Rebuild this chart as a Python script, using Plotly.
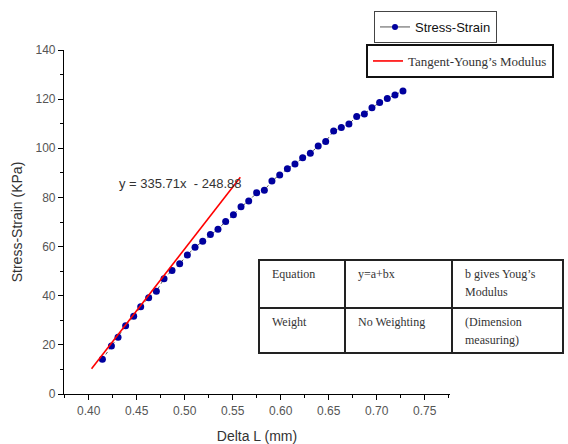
import plotly.graph_objects as go

# ---- data ----
delta_l = [0.4143, 0.4237, 0.4306, 0.4385, 0.4469, 0.4542, 0.4625, 0.4705, 0.4785, 0.4868,
           0.4948, 0.5028, 0.5108, 0.5188, 0.5268, 0.5347, 0.5427, 0.5508, 0.5587, 0.5667,
           0.5750, 0.5830, 0.5909, 0.5990, 0.6070, 0.6149, 0.6229, 0.6309, 0.6391, 0.6469,
           0.6552, 0.6632, 0.6711, 0.6792, 0.6872, 0.6951, 0.7031, 0.7111, 0.7191, 0.7274]
stress = [14.1, 19.5, 23.1, 27.8, 31.6, 35.5, 39.2, 41.8, 46.9, 50.3,
          53.0, 56.6, 59.7, 62.2, 64.9, 67.1, 70.2, 73.0, 76.2, 78.5,
          81.9, 82.9, 86.7, 89.1, 91.7, 93.6, 96.1, 98.0, 100.9, 102.8,
          107.0, 108.5, 109.9, 112.9, 114.0, 116.5, 118.6, 120.3, 121.7, 123.3]
tangent_x = [0.403, 0.558]
tangent_y = [10.3, 88.2]
x_ticks = [0.40, 0.45, 0.50, 0.55, 0.60, 0.65, 0.70, 0.75]
y_ticks = [0, 20, 40, 60, 80, 100, 120, 140]
equation_text = "y = 335.71x  - 248.88"
table_rows = [[["Equation"], ["y=a+bx"], ["b gives Youg’s", "Modulus"]],
              [["Weight"], ["No Weighting"], ["(Dimension", "measuring)"]]]

W, H = 568, 444
ML, MR, MT, MB = 64, 118, 50, 50
PW, PH = W - ML - MR, H - MT - MB


def px(x):
    return (x - ML) / PW


def py(y):
    return (H - MB - y) / PH


fig = go.Figure()
fig.add_trace(go.Scatter(
    x=delta_l, y=stress, mode="lines+markers", name="Stress-Strain",
    line=dict(color="#555555", width=1, dash="dot"),
    marker=dict(color="#00009E", size=7, symbol="circle"),
    showlegend=False))
# legend entry for the data series (solid line sample as in the reference)
fig.add_trace(go.Scatter(
    x=[None], y=[None], mode="lines+markers", name="Stress-Strain",
    line=dict(color="#555555", width=1),
    marker=dict(color="#00009E", size=6, symbol="circle"),
    legend="legend"))
fig.add_trace(go.Scatter(
    x=tangent_x, y=tangent_y, mode="lines", name="Tangent-Young’s Modulus",
    line=dict(color="#FF0000", width=1.6),
    legend="legend2"))

shapes = []
annotations = []

# equation label
annotations.append(dict(xref="paper", yref="paper", x=px(117), y=py(183),
                        xanchor="left", yanchor="middle", showarrow=False,
                        text=equation_text,
                        font=dict(family="Liberation Sans, Arial", size=13, color="#333333")))

# table
tx0, tx1, ty0, ty1 = 259, 563, 260, 353
col_x = [tx0, 345, 452, tx1]
row_y = [ty0, 308, ty1]
shapes.append(dict(type="rect", xref="paper", yref="paper",
                   x0=px(tx0), x1=px(tx1), y0=py(ty0), y1=py(ty1),
                   line=dict(color="#222222", width=2), fillcolor="white", layer="above"))
for cx in col_x[1:-1]:
    shapes.append(dict(type="line", xref="paper", yref="paper",
                       x0=px(cx), x1=px(cx), y0=py(ty0), y1=py(ty1),
                       line=dict(color="#222222", width=2), layer="above"))
for ry in row_y[1:-1]:
    shapes.append(dict(type="line", xref="paper", yref="paper",
                       x0=px(tx0), x1=px(tx1), y0=py(ry), y1=py(ry),
                       line=dict(color="#222222", width=2), layer="above"))
for r, row in enumerate(table_rows):
    for c, lines in enumerate(row):
        for k, txt in enumerate(lines):
            annotations.append(dict(xref="paper", yref="paper",
                                    x=px(col_x[c] + 11), y=py(row_y[r] + 14 + 18 * k),
                                    xanchor="left", yanchor="middle", align="left",
                                    showarrow=False, text=txt,
                                    font=dict(family="Liberation Serif, Times New Roman, serif",
                                              size=12, color="#333333")))

axis_common = dict(showline=True, linecolor="#000000", linewidth=1.2, ticks="outside",
                   ticklen=5, tickwidth=1, tickcolor="#000000", showgrid=False, zeroline=False,
                   mirror=False, automargin=False,
                   tickfont=dict(family="Liberation Sans Narrow, Liberation Sans, Arial",
                                 size=12, color="#555555"))

fig.update_layout(
    width=W, height=H,
    margin=dict(l=ML, r=MR, t=MT, b=MB, autoexpand=False),
    paper_bgcolor="white", plot_bgcolor="white",
    xaxis=dict(range=[0.3743, 0.7764], tickvals=x_ticks,
               ticktext=[f"{v:.2f}" for v in x_ticks],
               minor=dict(ticks="outside", ticklen=3, dtick=0.025, tick0=0.375,
                          tickcolor="#000000"),
               title=dict(text="Delta L (mm)", standoff=27,
                          font=dict(family="Liberation Sans, Arial", size=14, color="#333333")),
               **axis_common),
    yaxis=dict(range=[0, 140], tickvals=y_ticks,
               minor=dict(ticks="outside", ticklen=3, dtick=10, tickcolor="#000000"),
               title=dict(text="Stress-Strain (KPa)", standoff=9,
                          font=dict(family="Liberation Sans, Arial", size=14, color="#333333")),
               **axis_common),
    legend=dict(x=px(374), y=py(11), xanchor="left", yanchor="top",
                bordercolor="#444444", borderwidth=1, bgcolor="white",
                font=dict(family="Liberation Sans, Arial", size=13, color="#111111"),
                tracegroupgap=0, itemwidth=30),
    legend2=dict(x=px(366), y=py(44), xanchor="left", yanchor="top",
                 bordercolor="#111111", borderwidth=2, bgcolor="white",
                 font=dict(family="Liberation Serif, Times New Roman, serif", size=13,
                           color="#333333"),
                 itemwidth=30),
    shapes=shapes,
    annotations=annotations,
    showlegend=True,
)

fig.write_html("out.html",
               config={"displayModeBar": False},
               post_script="document.body.style.margin='0';document.body.style.overflow='hidden';")
